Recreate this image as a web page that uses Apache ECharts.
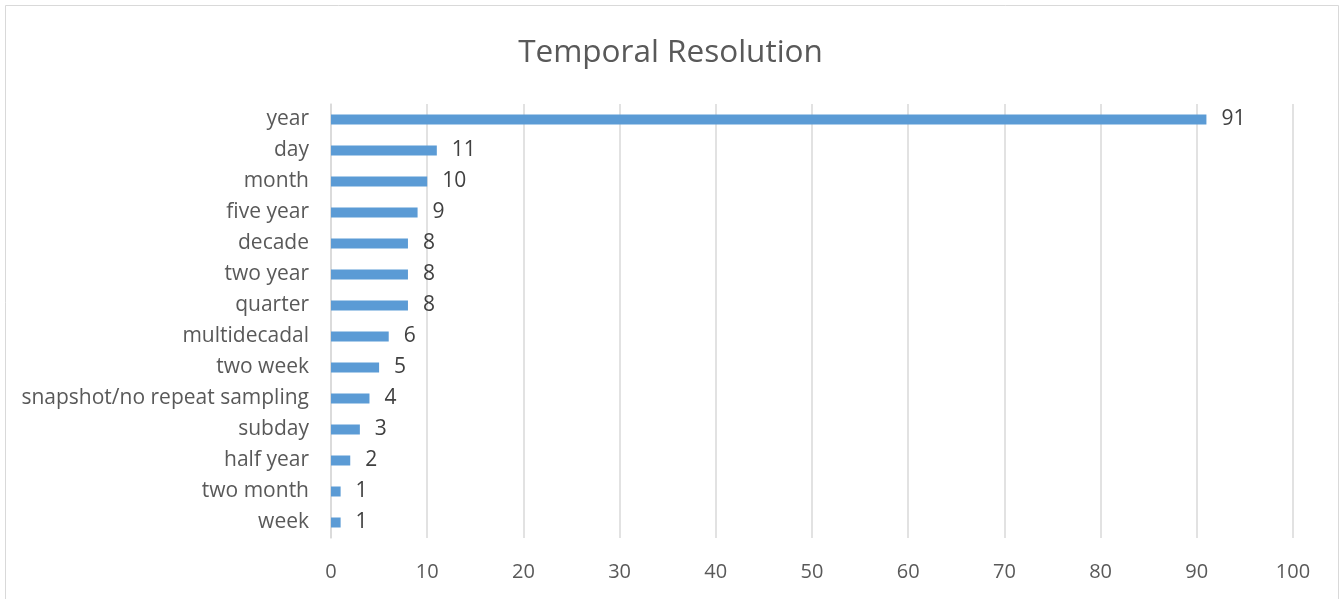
<!DOCTYPE html>
<html>
<head>
<meta charset="utf-8">
<script src="https://cdn.jsdelivr.net/npm/echarts@6/dist/echarts.min.js"></script>
<style>html,body{margin:0;padding:0;background:#fff;}#c{width:1341px;height:599px;}</style>
</head>
<body>
<div id="c"></div>
<script>
const titleText = "Temporal Resolution";
const categories = ["year","day","month","five year","decade","two year","quarter","multidecadal","two week","snapshot/no repeat sampling","subday","half year","two month","week"];
const values = [91,11,10,9,8,8,8,6,5,4,3,2,1,1];
const xTicks = [0,10,20,30,40,50,60,70,80,90,100];

const FONT = "Open Sans";
const chart = echarts.init(document.getElementById('c'), null, {renderer:'canvas'});
chart.setOption({
  backgroundColor: '#fff',
  animation: false,
  graphic: [{
    type: 'rect', shape: {x: 5.5, y: 5.5, width: 1333, height: 600},
    style: {fill: 'none', stroke: '#d9d9d9', lineWidth: 1}, silent: true
  }],
  title: {
    text: titleText, left: 'center', top: 32,
    textStyle: {fontFamily: FONT, fontSize: 31.5, fontWeight: 'normal', color: '#595959'}
  },
  grid: {left: 331, right: 48, top: 104, bottom: 61},
  xAxis: {
    type: 'value', min: xTicks[0], max: xTicks[xTicks.length-1], interval: 10,
    axisLine: {show: false}, axisTick: {show: false},
    splitLine: {show: true, lineStyle: {color: '#d9d9d9', width: 1.5}},
    axisLabel: {fontFamily: FONT, fontSize: 20, color: '#595959', margin: 24}
  },
  yAxis: {
    type: 'category', data: categories, inverse: true,
    axisLine: {show: true, lineStyle: {color: '#d9d9d9', width: 1.5}},
    axisTick: {show: false},
    axisLabel: {fontFamily: FONT, fontSize: 21, color: '#595959', margin: 22, padding: [4, 0, 0, 0]}
  },
  series: [{
    type: 'bar', data: values, barWidth: 10,
    itemStyle: {color: '#5b9bd5'},
    label: {show: true, position: 'right', distance: 15, fontFamily: FONT, fontSize: 21, color: '#404040', padding: [4, 0, 0, 0]}
  }]
});
</script>
</body>
</html>
